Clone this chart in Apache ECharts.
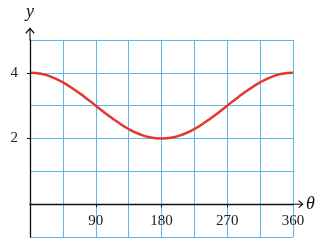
<!DOCTYPE html>
<html><head><meta charset="utf-8">
<script src="https://cdn.jsdelivr.net/npm/echarts@6/dist/echarts.min.js"></script>
<style>html,body{margin:0;padding:0;background:#fff}#c{width:326px;height:250px}</style>
</head><body><div id="c"></div>
<script>
// Data
const thetaValues = [0, 15, 30, 45, 60, 75, 90, 105, 120, 135, 150, 165, 180,
                     195, 210, 225, 240, 255, 270, 285, 300, 315, 330, 345, 360];
const yValues = [4, 3.97, 3.87, 3.71, 3.5, 3.26, 3, 2.74, 2.5, 2.29, 2.13, 2.03, 2,
                 2.03, 2.13, 2.29, 2.5, 2.74, 3, 3.26, 3.5, 3.71, 3.87, 3.97, 4];
const xTickLabels = [90, 180, 270, 360];
const xTickMarks = [90, 180, 270];
const yTickLabels = [2, 4];

const arrowPath = 'path://M5,0 L10,5.6 L9,6.6 L5.6,2.8 L5.6,14 L4.4,14 L4.4,2.8 L1,6.6 L0,5.6 Z';
const gridColor = '#5DB8EC';
const fontFam = '"Liberation Serif", "DejaVu Serif", serif';
const gridTop = 40, gridBottom = 13, H = 250;
const yMin = -1, yMax = 5;
// shift the x-axis up from the grid bottom to the y = 0 line
const zeroOffset = -(H - gridTop - gridBottom) * (0 - yMin) / (yMax - yMin);

const chart = echarts.init(document.getElementById('c'), null, {renderer: 'canvas'});
chart.setOption({
  animation: false,
  grid: {left: 30, right: 33, top: gridTop, bottom: gridBottom, containLabel: false, outerBoundsMode: 'none'},
  xAxis: [{
    type: 'value', min: 0, max: 360, interval: 45, position: 'bottom', offset: zeroOffset,
    name: 'θ', nameLocation: 'end', nameGap: 13,
    nameTextStyle: {fontFamily: fontFam, fontStyle: 'italic', fontSize: 18, color: '#111', verticalAlign: 'middle'},
    axisLine: {show: true, onZero: false, lineStyle: {color: '#111', width: 1.3},
      symbol: ['none', arrowPath], symbolSize: [10, 11], symbolOffset: [0, 5]},
    axisTick: {show: true, customValues: xTickMarks, length: 3, lineStyle: {color: '#111'}},
    axisLabel: {show: true, customValues: xTickLabels, margin: 9, fontFamily: fontFam, fontSize: 15, color: '#222'},
    splitLine: {show: false},
    z: 5
  }, {
    type: 'value', min: 0, max: 360, interval: 45, position: 'bottom',
    axisLine: {show: false, onZero: false}, axisTick: {show: false}, axisLabel: {show: false},
    splitLine: {show: true, lineStyle: {color: gridColor, width: 1}},
    z: 1
  }],
  yAxis: [{
    type: 'value', min: yMin, max: yMax, interval: 1,
    name: 'y', nameLocation: 'end', nameGap: 19,
    nameTextStyle: {fontFamily: fontFam, fontStyle: 'italic', fontSize: 18, color: '#111', align: 'center'},
    axisLine: {show: true, onZero: false, lineStyle: {color: '#111', width: 1.3},
      symbol: ['none', arrowPath], symbolSize: [10, 13], symbolOffset: [0, 6]},
    axisTick: {show: true, customValues: yTickLabels, length: 3, lineStyle: {color: '#111'}},
    axisLabel: {show: true, customValues: yTickLabels, margin: 12, fontFamily: fontFam, fontSize: 15, color: '#222'},
    splitLine: {show: false},
    z: 5
  }, {
    type: 'value', min: yMin, max: yMax, interval: 1, position: 'left',
    axisLine: {show: false, onZero: false}, axisTick: {show: false}, axisLabel: {show: false},
    splitLine: {show: true, lineStyle: {color: gridColor, width: 1}},
    z: 1
  }],
  series: [{
    type: 'line', smooth: true, showSymbol: false, xAxisIndex: 0, yAxisIndex: 0,
    data: thetaValues.map((t, i) => [t, yValues[i]]),
    lineStyle: {color: '#E4362A', width: 2.5}
  }]
});
</script></body></html>
